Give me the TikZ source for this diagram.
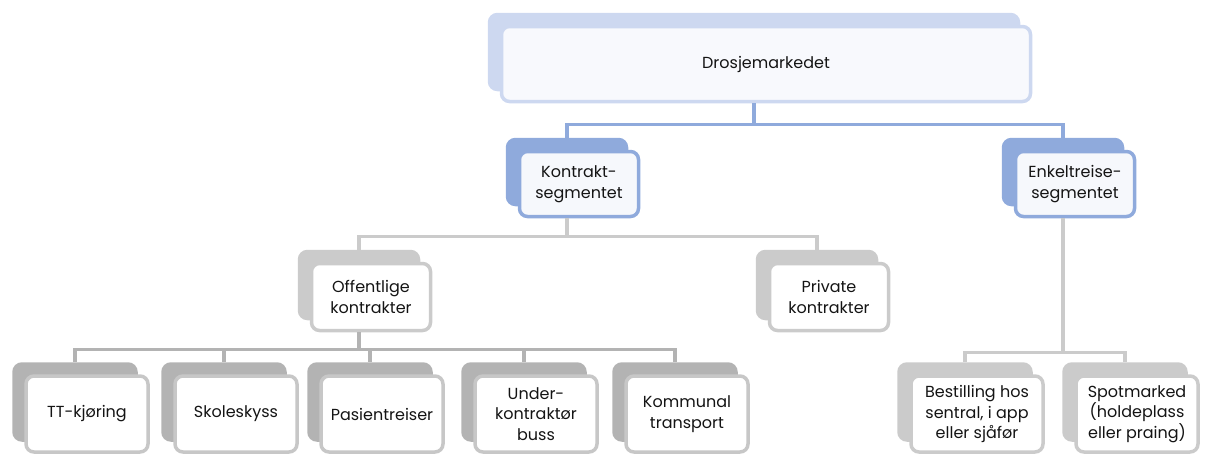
\documentclass[tikz,border=0pt]{standalone}
\usepackage{fontspec}
\setmainfont{Poppins}
\usetikzlibrary{shadows}

\definecolor{paleblue}{HTML}{CDD8F0}
\definecolor{midblue}{HTML}{8FAADC}
\definecolor{palegrey}{HTML}{CBCBCB}
\definecolor{midgrey}{HTML}{B3B3B3}
\definecolor{textgrey}{HTML}{141414}

\begin{document}
\begin{tikzpicture}[x=1pt, y=-1pt]

    \tikzset{box/.style={%
      rectangle,%
      rounded corners=8pt,%
      line width=3.5pt,%
      align=center,%
      inner sep=0pt,%
      text=textgrey,%
      font=\fontsize{16}{20.5}\selectfont}%
    };
    \tikzset{backed/.style={%
      copy shadow={shadow xshift=-12pt, shadow yshift=12pt, fill=#1, draw=#1}}%
    };

    \tikzset{topbox/.style={box, draw=paleblue, fill=paleblue!15, backed=paleblue,
      minimum width=529pt, minimum height=75pt}};
    \tikzset{segbox/.style={box, draw=midblue, fill=midblue!8, backed=midblue,
      minimum width=119pt, minimum height=65pt}};
    \tikzset{kindbox/.style={box, draw=palegrey, fill=white, backed=palegrey,
      minimum width=119pt, minimum height=67pt}};
    \tikzset{leafbox/.style={box, draw=palegrey!85!midgrey, fill=white, backed=midgrey,
      minimum width=122pt, minimum height=76pt}};
    \tikzset{rightleaf/.style={box, draw=palegrey, fill=white, backed=palegrey,
      minimum width=122pt, minimum height=76pt}};

    \tikzset{bluelink/.style={draw=midblue, line width=3.5pt}};
    \tikzset{greylink/.style={draw=palegrey, line width=3.5pt}};
    \tikzset{darklink/.style={draw=midgrey, line width=3.5pt}};

    \useasboundingbox (0,0) rectangle (1216,453);

    %%%%%%%%%%%%%%%
    % market      %
    %%%%%%%%%%%%%%%
    \node[topbox] (marked) at (766, 64) {Drosjemarkedet};

    \node[segbox] (kontrakt) at (579, 184) {Kontrakt-\\segmentet};
    \node[segbox] (enkelt) at (1075, 184) {Enkeltreise-\\segmentet};

    %%%%%%%%%%%%%%%
    % contracts   %
    %%%%%%%%%%%%%%%
    \node[kindbox] (offentlig) at (371, 297) {Offentlige\\kontrakter};
    \node[kindbox] (privat) at (829, 297) {Private\\kontrakter};

    \node[leafbox] (tt) at (87, 414) {TT-kjøring};
    \node[leafbox] (skole) at (236, 414) {Skoleskyss};
    \node[leafbox] (pasient) at (382, 414) {Pasientreiser};
    \node[leafbox] (under) at (536, 414) {Under-\\kontraktør\\buss};
    \node[leafbox] (kommunal) at (687, 414) {Kommunal\\transport};

    %%%%%%%%%%%%%%%
    % single trip %
    %%%%%%%%%%%%%%%
    \node[rightleaf, minimum width=132pt] (bestilling) at (977, 414)
      {Bestilling hos\\sentral, i app\\eller sjåfør};
    \node[rightleaf] (spot) at (1137, 414)
      {Spotmarked\\(holdeplass\\eller praing)};

    \draw [bluelink] ([xshift=-12pt]marked.south) -- ++(0,21) -| ([shift={(-12pt,12pt)}]kontrakt.north);
    \draw [bluelink] ([xshift=-12pt]marked.south) -- ++(0,21) -| ([shift={(-12pt,12pt)}]enkelt.north);

    \draw [greylink] ([xshift=-12pt]kontrakt.south) -- ++(0,18) -| ([shift={(-12pt,12pt)}]offentlig.north);
    \draw [greylink] ([xshift=-12pt]kontrakt.south) -- ++(0,18) -| ([shift={(-12pt,12pt)}]privat.north);

    \foreach \leaf in {tt, skole, pasient, under, kommunal}
      \draw [darklink] ([xshift=-12pt]offentlig.south) -- ++(0,17) -| ([shift={(-12pt,12pt)}]\leaf.north);

    \draw [greylink] ([xshift=-12pt]enkelt.south) -- ++(0,134) -| ([shift={(-12pt,12pt)}]bestilling.north);
    \draw [greylink] ([xshift=-12pt]enkelt.south) -- ++(0,134) -| ([shift={(-12pt,12pt)}]spot.north);

\end{tikzpicture}
\end{document}
